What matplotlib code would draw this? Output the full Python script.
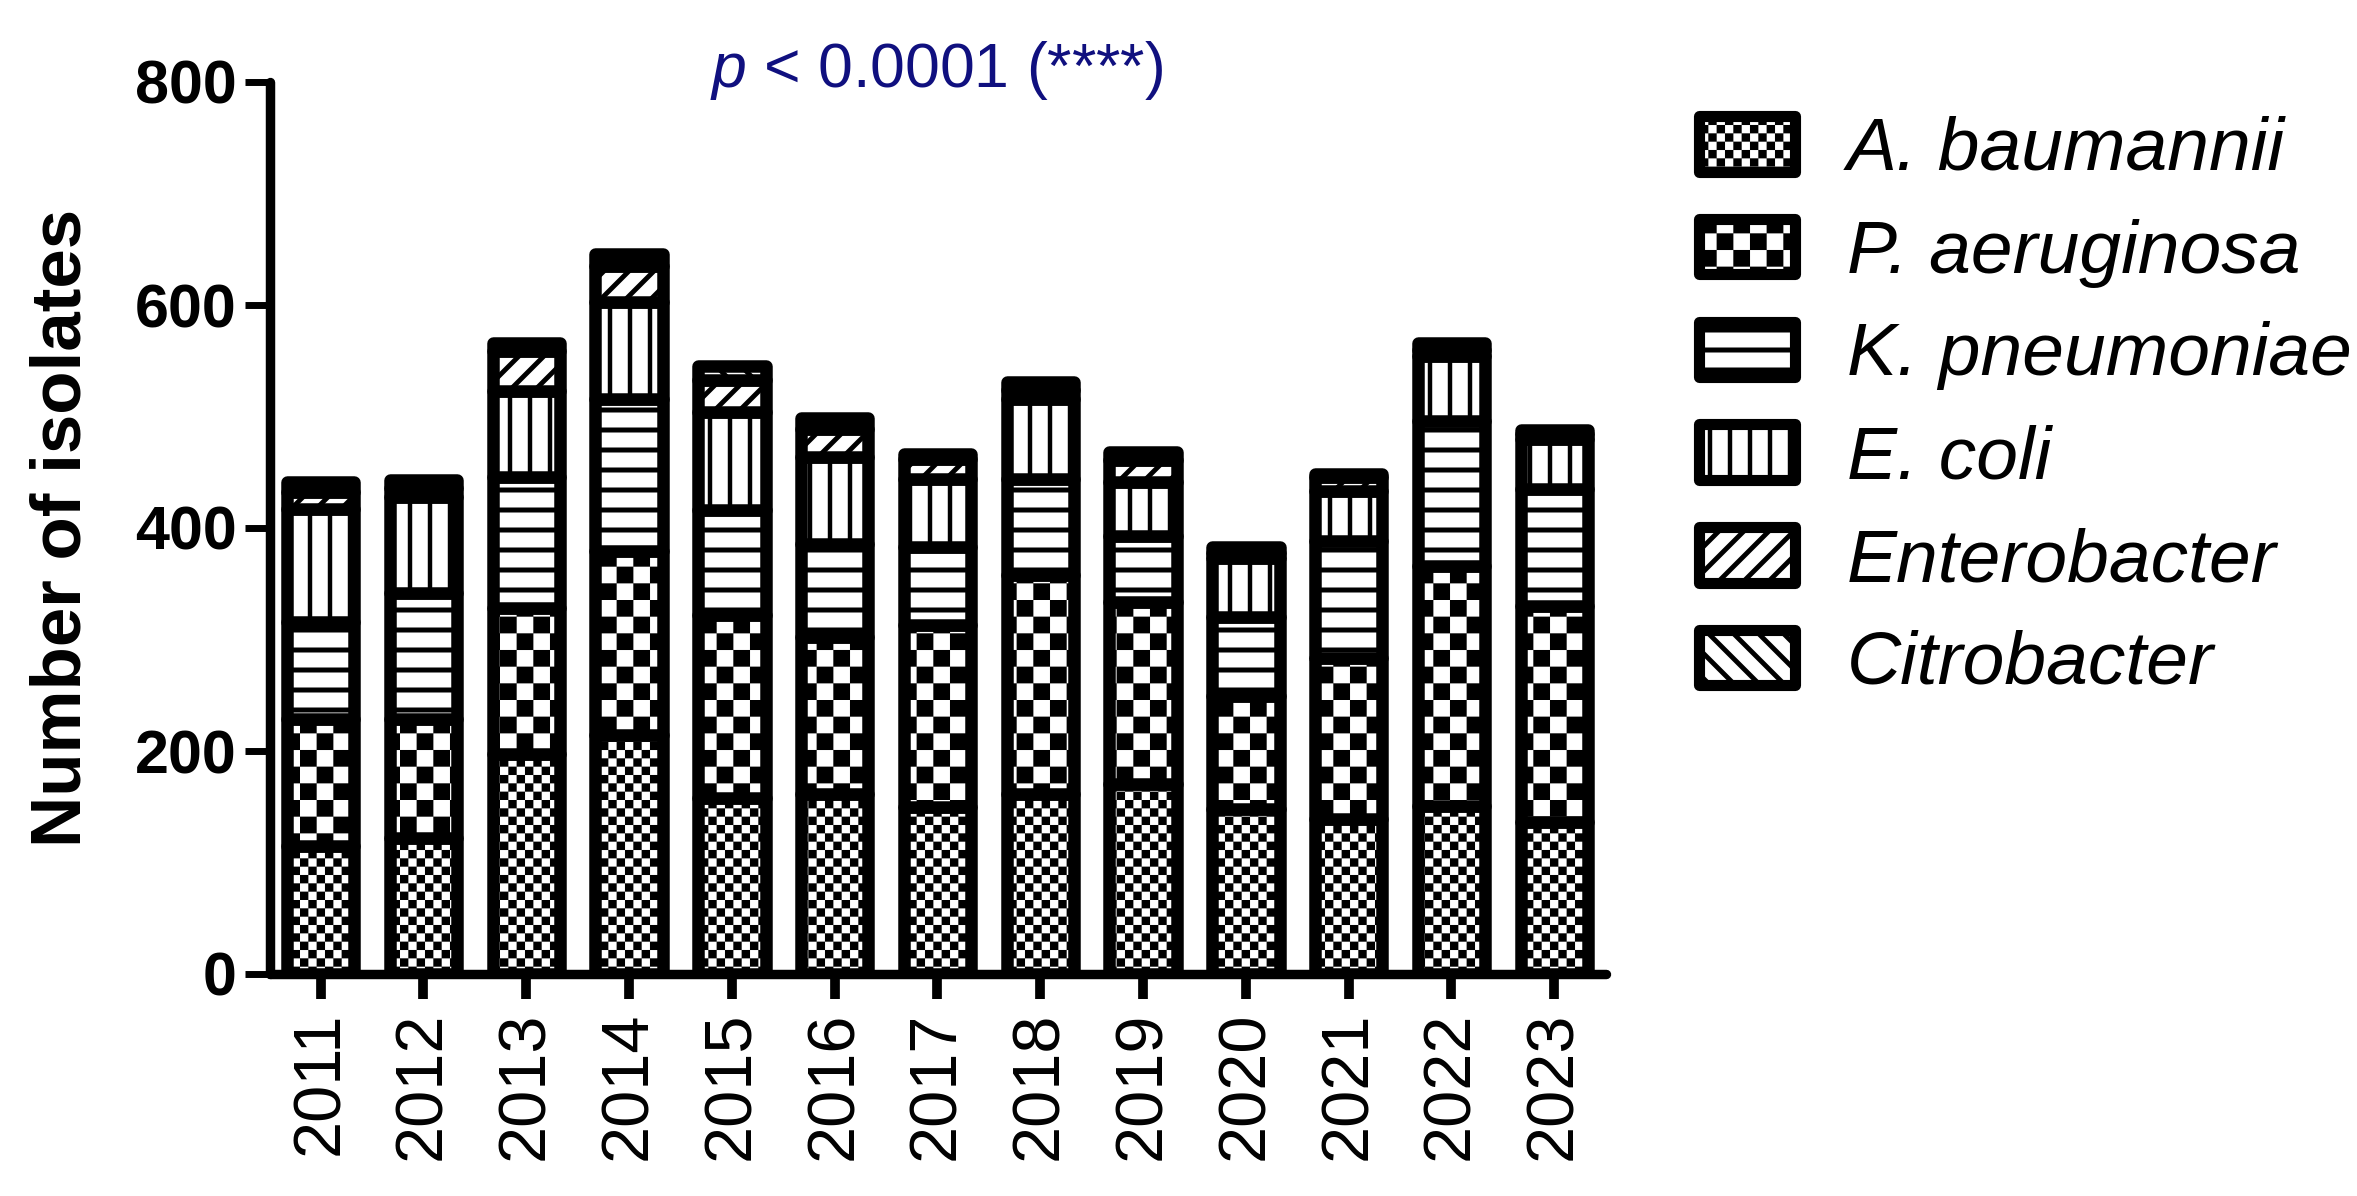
import numpy as np
import matplotlib
matplotlib.use("Agg")
import matplotlib.pyplot as plt
import matplotlib.patches as mpatches
import matplotlib.hatch as mhatch
from matplotlib.path import Path
from matplotlib.legend_handler import HandlerPatch

# ---------------- data ----------------
years = ["2011", "2012", "2013", "2014", "2015", "2016", "2017",
         "2018", "2019", "2020", "2021", "2022", "2023"]
species = ["A. baumannii", "P. aeruginosa", "K. pneumoniae",
           "E. coli", "Enterobacter", "Citrobacter"]
a_baumannii = [115, 122, 197, 214, 158, 161, 150, 161, 170, 148, 139, 151, 136]
p_aeruginosa = [114, 107, 131, 165, 164, 141, 163, 197, 164, 101, 144, 215, 194]
k_pneumoniae = [87, 113, 118, 137, 94, 84, 70, 86, 59, 71, 105, 130, 105]
e_coli = [101, 86, 77, 87, 88, 78, 61, 72, 48, 53, 45, 58, 45]
enterobacter = [15, 8, 36, 32, 29, 25, 18, 8, 20, 5, 13, 6, 4]
citrobacter = [9, 7, 7, 11, 12, 10, 4, 7, 7, 5, 2, 6, 4]
series = [a_baumannii, p_aeruginosa, k_pneumoniae, e_coli, enterobacter, citrobacter]
yticks = [0, 200, 400, 600, 800]
title_text = r"$\mathit{p}$ < 0.0001 (****)"

# ---------------- custom hatch patterns ----------------
class CustomHatch(mhatch.HatchPatternBase):
    def __init__(self, hatch, density):
        verts, codes = [], []
        if 'o' in hatch or 'O' in hatch:
            nx, ny = (6, 6) if 'o' in hatch else (3, 3)
            w, h = 1.0 / (2 * nx), 1.0 / (2 * ny)
            for i in range(2 * nx):
                for j in range(2 * ny):
                    if (i + j) % 2 == 0:
                        x0, y0 = i * w, j * h
                        verts += [(x0, y0), (x0 + w, y0), (x0 + w, y0 + h),
                                  (x0, y0 + h), (x0, y0)]
                        codes += [Path.MOVETO, Path.LINETO, Path.LINETO,
                                  Path.LINETO, Path.CLOSEPOLY]
        elif '-' in hatch:
            n = 5
            for k in range(n):
                y = (k + 0.5) / n
                verts += [(0, y), (1, y)]
                codes += [Path.MOVETO, Path.LINETO]
        elif '|' in hatch:
            n = 5
            for k in range(n):
                x = (k + 0.5) / n
                verts += [(x, 0), (x, 1)]
                codes += [Path.MOVETO, Path.LINETO]
        elif '/' in hatch:
            n = 4
            for k in range(-n, n + 1):
                c = k / n
                verts += [(0, c), (1, 1 + c)]
                codes += [Path.MOVETO, Path.LINETO]
        elif '\\' in hatch:
            n = 4
            for k in range(0, 2 * n + 1):
                c = k / n
                verts += [(0, c), (1, c - 1)]
                codes += [Path.MOVETO, Path.LINETO]
        self._v = np.array(verts, dtype=float).reshape(-1, 2)
        self._c = np.array(codes, dtype=Path.code_type)
        self.num_vertices = len(self._v)

    def set_vertices_and_codes(self, vertices, codes):
        vertices[:] = self._v
        codes[:] = self._c


mhatch._hatch_types[:] = [CustomHatch]
try:
    Path.hatch.cache_clear()
except Exception:
    pass

hatches = ['o', 'O', '-', '|', '/', '\\']
hatch_lws = [0.05, 0.05, 3.6, 3.2, 3.5, 3.5]


def set_hlw(p, lw):
    if hasattr(p, 'set_hatch_linewidth'):
        p.set_hatch_linewidth(lw)
    else:
        p._hatch_linewidth = lw


# ---------------- style ----------------
plt.rcParams['font.family'] = ['Liberation Sans', 'DejaVu Sans']
plt.rcParams['mathtext.fontset'] = 'custom'
plt.rcParams['mathtext.rm'] = 'Liberation Sans'
plt.rcParams['mathtext.it'] = 'Liberation Sans:italic'
plt.rcParams['hatch.color'] = 'black'

W, H = 2357, 1196
fig = plt.figure(figsize=(W / 100, H / 100), dpi=100)
ax = fig.add_axes([270 / W, (H - 974) / H, 1335.7 / W, 892 / H])

x = np.arange(len(years))
bar_w = 0.657
edge_lw = 9.0
bottom = np.zeros(len(years))
for vals, hatch, hlw in zip(series, hatches, hatch_lws):
    with plt.rc_context({'hatch.linewidth': hlw}):
        bars = ax.bar(x, vals, bar_w, bottom=bottom, color='white',
                      edgecolor='black', linewidth=edge_lw, hatch=hatch,
                      zorder=2)
    for b in bars:
        set_hlw(b, hlw)
        b.set_joinstyle('round')
    bottom += np.array(vals)

ax.set_xlim(-0.493, 12.5)
ax.set_ylim(0, 800)
ax.set_yticks(yticks)
ax.set_yticklabels([str(t) for t in yticks], fontsize=44, fontweight='bold')
ax.set_xticks(x)
ax.set_xticklabels(years, rotation=90, fontsize=48)

for s in ['top', 'right']:
    ax.spines[s].set_visible(False)
for s in ['left', 'bottom']:
    ax.spines[s].set_linewidth(6.8)
    ax.spines[s].set_capstyle('round')
    ax.spines[s].set_zorder(3)
ax.tick_params(axis='y', length=18, width=5, pad=6, direction='out')
ax.tick_params(axis='x', length=18, width=7, pad=9, direction='out')

ax.set_ylabel('Number of isolates', fontsize=51, fontweight='bold')
ax.yaxis.set_label_coords(-0.131, 0.5)

fig.text(937 / W, (H - 87) / H, title_text, ha='center', va='baseline',
         fontsize=45, color='#10107F')


# ---------------- legend ----------------
class HatchHandler(HandlerPatch):
    def __init__(self, hlw, **kw):
        super().__init__(**kw)
        self.hlw = hlw

    def create_artists(self, legend, orig_handle, xdescent, ydescent,
                       width, height, fontsize, trans):
        arts = super().create_artists(legend, orig_handle, xdescent, ydescent,
                                      width, height, fontsize, trans)
        for a in arts:
            set_hlw(a, self.hlw)
            a.set_joinstyle('round')
        return arts


handles = []
hmap = {}
for hatch, hlw in zip(hatches, hatch_lws):
    with plt.rc_context({'hatch.linewidth': hlw}):
        r = mpatches.Rectangle((0, 0), 1, 1, facecolor='white',
                               edgecolor='black', linewidth=8, hatch=hatch)
    set_hlw(r, hlw)
    handles.append(r)
    hmap[r] = HatchHandler(hlw)

fig.legend(handles, species, handler_map=hmap, loc='upper left',
           bbox_to_anchor=(1699 / W, (H - 116) / H), frameon=False,
           borderpad=0, borderaxespad=0, handlelength=1.28,
           handleheight=0.76, handletextpad=0.69, labelspacing=0.45,
           prop={'family': 'Liberation Sans', 'style': 'italic', 'size': 54})

fig.savefig('out.png', dpi=100)
